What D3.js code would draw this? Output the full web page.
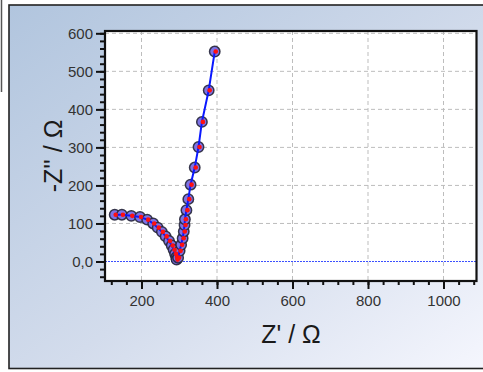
<!DOCTYPE html>
<html><head><meta charset="utf-8">
<script src="https://cdn.jsdelivr.net/npm/d3@7"></script>
<style>
html,body{margin:0;padding:0;background:#fff;overflow:hidden;}
svg{display:block;}
</style></head>
<body>
<script>
// Data (Z' in ohm, -Z'' in ohm)
const zReal = [129, 148, 173, 196, 215, 231, 243, 254, 264, 273, 280, 285, 289, 292, 293,
               297, 301, 305, 309, 312, 314, 315, 319, 324, 330, 341, 351, 360, 378, 394];
const zImag = [123, 123, 120, 117, 110, 100, 89, 78, 66, 54, 42, 31, 20, 11, 5,
               10, 28, 44, 61, 79, 96, 111, 135, 164, 202, 247, 301, 367, 450, 552];
const xTicks = [200, 400, 600, 800, 1000];
const yTicks = [0, 100, 200, 300, 400, 500, 600];
const yTickLabels = ["0,0", "100", "200", "300", "400", "500", "600"];
const xLabel = "Z' / Ω";
const yLabel = "-Z'' / Ω";

const W = 483, H = 372;
const svg = d3.select("body").append("svg").attr("width", W).attr("height", H);
const defs = svg.append("defs");
const grad = defs.append("linearGradient").attr("id", "bg")
  .attr("x1", 0).attr("y1", 0).attr("x2", 1).attr("y2", 1);
grad.append("stop").attr("offset", "0%").attr("stop-color", "#b1c5de");
grad.append("stop").attr("offset", "55%").attr("stop-color", "#d3dcec");
grad.append("stop").attr("offset", "100%").attr("stop-color", "#f6f7fe");

// stray left line
svg.append("line").attr("x1", 1.5).attr("x2", 1.5).attr("y1", 0).attr("y2", 92)
  .attr("stroke", "#555").attr("stroke-width", 1.5);

// panel
svg.append("rect").attr("x", 9).attr("y", 5).attr("width", 490).attr("height", 363.5)
  .attr("fill", "url(#bg)").attr("stroke", "#222").attr("stroke-width", 1.6);

const L = 105, T = 31, R = 476.5, B = 281;
const x = d3.scaleLinear().domain([200, 1000]).range([141.5, 443.5]);
const y = d3.scaleLinear().domain([0, 600]).range([261.5, 33.3]);

const g = svg.append("g");
g.append("rect").attr("x", L).attr("y", T).attr("width", R - L).attr("height", B - T)
  .attr("fill", "#fff");

// grid
g.selectAll(".gx").data(xTicks).join("line")
  .attr("x1", d => x(d)).attr("x2", d => x(d)).attr("y1", T).attr("y2", B)
  .attr("stroke", "#bdbdbd").attr("stroke-width", 1).attr("stroke-dasharray", "4,3");
g.selectAll(".gy").data(yTicks.filter(d => d !== 0)).join("line")
  .attr("x1", L).attr("x2", R).attr("y1", d => y(d)).attr("y2", d => y(d))
  .attr("stroke", "#bdbdbd").attr("stroke-width", 1).attr("stroke-dasharray", "4,3");
// zero line
g.append("line").attr("x1", L).attr("x2", R).attr("y1", y(0)).attr("y2", y(0))
  .attr("stroke", "#3c50ff").attr("stroke-width", 1.2).attr("stroke-dasharray", "2,1");

// axes
const fontTick = "'Liberation Sans Narrow','Arial Narrow','Liberation Sans',Arial,sans-serif";
const xMinor = d3.range(120, 1081, 40);
const yMinor = d3.range(-40, 601, 20);
const xAxis = d3.axisBottom(x).tickValues(xMinor).tickSize(4).tickFormat("");
const xAxisMaj = d3.axisBottom(x).tickValues(xTicks).tickSize(8).tickFormat(d3.format("d")).tickPadding(6);
const yAxis = d3.axisLeft(y).tickValues(yMinor).tickSize(5).tickFormat("");
const yAxisMaj = d3.axisLeft(y).tickValues(yTicks).tickSize(9)
  .tickFormat((d, i) => yTickLabels[i]).tickPadding(3);

function styleAxis(sel) {
  sel.select(".domain").remove();
  sel.selectAll("line").attr("stroke", "#111").attr("stroke-width", 2);
  sel.selectAll("text").attr("fill", "#333").style("font-family", fontTick).style("font-size", "15px");
}
g.append("g").attr("transform", `translate(0,${B})`).call(xAxis).call(styleAxis);
g.append("g").attr("transform", `translate(0,${B})`).call(xAxisMaj).call(styleAxis);
g.append("g").attr("transform", `translate(${L},0)`).call(yAxis).call(styleAxis);
g.append("g").attr("transform", `translate(${L},0)`).call(yAxisMaj).call(styleAxis);

// data
const pts = zReal.map((v, i) => [v, zImag[i]]);
const clip = defs.append("clipPath").attr("id", "clip");
clip.append("rect").attr("x", L).attr("y", T).attr("width", R - L).attr("height", B - T);
const pg = g.append("g").attr("clip-path", "url(#clip)");
pg.selectAll(".m").data(pts).join("circle")
  .attr("cx", d => x(d[0])).attr("cy", d => y(d[1])).attr("r", 5.2)
  .attr("fill", "#7d72e6").attr("stroke", "#26263a").attr("stroke-width", 1.5).attr("stroke-opacity", 0.9);
pg.append("path").datum(pts)
  .attr("d", d3.line().x(d => x(d[0])).y(d => y(d[1])))
  .attr("fill", "none").attr("stroke", "#0a18ff").attr("stroke-width", 2);
pg.selectAll(".r").data(pts).join("circle")
  .attr("cx", d => x(d[0]) + 1).attr("cy", d => y(d[1])).attr("r", 2.3)
  .attr("fill", "#ff1010");

// plot border
g.append("rect").attr("x", L).attr("y", T).attr("width", R - L).attr("height", B - T)
  .attr("fill", "none").attr("stroke", "#111").attr("stroke-width", 2.2);

// axis titles
const fontTitle = "'Liberation Sans',Arial,sans-serif";
svg.append("text").attr("x", 291).attr("y", 343).attr("text-anchor", "middle")
  .style("font-family", fontTitle).style("font-size", "25px").attr("fill", "#1a1a1a").text(xLabel);
svg.append("text").attr("transform", "translate(62,156) rotate(-90)").attr("text-anchor", "middle")
  .style("font-family", fontTitle).style("font-size", "25px").attr("fill", "#1a1a1a").text(yLabel);
</script>
</body></html>
